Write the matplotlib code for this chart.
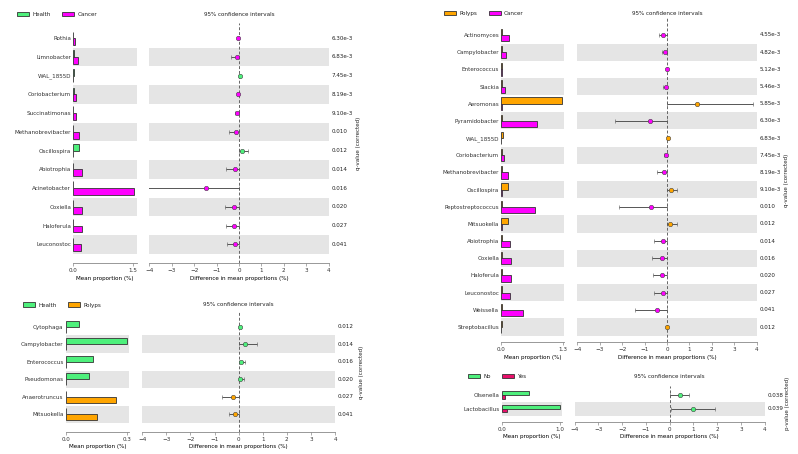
import numpy as np
import matplotlib
matplotlib.use("Agg")
import matplotlib.pyplot as plt
import matplotlib.patches as mpatches

# --- data ---
A_taxa = ["Rothia", "Limnobacter", "WAL_1855D", "Coriobacterium", "Succinatimonas",
          "Methanobrevibacter", "Oscillospira", "Abiotrophia", "Acinetobacter",
          "Coxiella", "Haloferula", "Leuconostoc"]
A_health = [0.005, 0.01, 0.03, 0.01, 0.005, 0.005, 0.14, 0.005, 0.005, 0.005, 0.005, 0.005]
A_cancer = [0.035, 0.13, 0.0, 0.06, 0.08, 0.15, 0.005, 0.21, 1.52, 0.22, 0.22, 0.19]
A_diff = [-0.03, -0.10, 0.04, -0.06, -0.07, -0.15, 0.13, -0.19, -1.49, -0.21, -0.21, -0.19]
A_lo = [-0.05, -0.36, 0.02, -0.10, -0.20, -0.43, 0.01, -0.58, -4.5, -0.64, -0.60, -0.55]
A_hi = [-0.01, 0.01, 0.06, 0.00, 0.00, 0.00, 0.39, 0.01, 0.00, 0.00, 0.01, 0.01]
A_q = ["6.30e-3", "6.83e-3", "7.45e-3", "8.19e-3", "9.10e-3", "0.010", "0.012",
       "0.014", "0.016", "0.020", "0.027", "0.041"]

B_taxa = ["Actinomyces", "Campylobacter", "Enterococcus", "Slackia", "Aeromonas",
          "Pyramidobacter", "WAL_1855D", "Coriobacterium", "Methanobrevibacter",
          "Oscillospira", "Peptostreptococcus", "Mitsuokella", "Abiotrophia",
          "Coxiella", "Haloferula", "Leuconostoc", "Weissella", "Streptobacillus"]
B_polyps = [0.005, 0.005, 0.005, 0.005, 1.29, 0.005, 0.04, 0.005, 0.005, 0.15, 0.005,
            0.135, 0.005, 0.005, 0.005, 0.005, 0.005, 0.005]
B_cancer = [0.16, 0.09, 0.01, 0.08, 0.005, 0.75, 0.0, 0.05, 0.15, 0.005, 0.71, 0.005,
            0.19, 0.21, 0.20, 0.18, 0.45, 0.0]
B_diff = [-0.16, -0.07, -0.01, -0.06, 1.34, -0.77, 0.03, -0.06, -0.15, 0.16, -0.73,
          0.15, -0.19, -0.21, -0.21, -0.18, -0.46, 0.005]
B_lo = [-0.37, -0.24, -0.02, -0.20, 0.00, -2.33, 0.02, -0.14, -0.43, 0.01, -2.13,
        0.01, -0.58, -0.65, -0.61, -0.56, -1.41, 0.00]
B_hi = [-0.01, 0.00, 0.00, 0.00, 3.85, 0.00, 0.04, 0.00, 0.00, 0.46, 0.00, 0.43,
        0.00, 0.00, 0.00, 0.00, 0.00, 0.01]
B_q = ["4.55e-3", "4.82e-3", "5.12e-3", "5.46e-3", "5.85e-3", "6.30e-3", "6.83e-3",
       "7.45e-3", "8.19e-3", "9.10e-3", "0.010", "0.012", "0.014", "0.016", "0.020",
       "0.027", "0.041", "0.012"]

C_taxa = ["Cytophaga", "Campylobacter", "Enterococcus", "Pseudomonas",
          "Anaerotruncus", "Mitsuokella"]
C_health = [0.064, 0.30, 0.134, 0.116, 0.003, 0.003]
C_polyps = [0.002, 0.002, 0.002, 0.002, 0.246, 0.152]
C_diff = [0.05, 0.26, 0.08, 0.07, -0.24, -0.15]
C_lo = [0.00, 0.00, 0.00, 0.00, -0.68, -0.41]
C_hi = [0.10, 0.78, 0.26, 0.24, 0.00, 0.00]
C_q = ["0.012", "0.014", "0.016", "0.020", "0.027", "0.041"]

D_taxa = ["Olsenella", "Lactobacillus"]
D_no = [0.46, 1.0]
D_yes = [0.057, 0.08]
D_diff = [0.44, 0.97]
D_lo = [0.00, 0.04]
D_hi = [0.83, 1.89]
D_p = ["0.038", "0.039"]

# --- style ---
W, H = 798, 454
FS = 4.1
GREEN = "#4ef07c"
MAGENTA = "#ff00ff"
ORANGE = "#ffa500"
CRIMSON = "#e8106a"
BAND = "#e5e5e5"
EDGE = "#333333"
EBAR = "#555555"

plt.rcParams["font.family"] = "DejaVu Sans"
plt.rcParams["font.size"] = FS
plt.rcParams["text.color"] = "#222222"


def px_axes(fig, x0, x1, ytop, ybot):
    return fig.add_axes([x0 / W, 1 - ybot / H, (x1 - x0) / W, (ybot - ytop) / H])


def panel(fig, taxa, g1, g2, diff, lo, hi, stats, names, colors,
          bar_tick, bar_xmax, bar_box, diff_box, ytop, ybot, pad_top, pad_bot,
          bar_h, legend_xy, stat_label, stat_x):
    n = len(taxa)
    rows = np.arange(n)
    ax_b = px_axes(fig, bar_box[0], bar_box[1], ytop, ybot)
    ax_d = px_axes(fig, diff_box[0], diff_box[1], ytop, ybot)

    for ax in (ax_b, ax_d):
        ax.set_ylim(n - 1 + pad_bot, -pad_top)
        for i in rows[1::2]:
            ax.axhspan(i - 0.5, i + 0.5, color=BAND, lw=0, zorder=0)
        for s in ("top", "right", "left"):
            ax.spines[s].set_visible(False)
        ax.spines["bottom"].set_color("#888888")
        ax.spines["bottom"].set_linewidth(0.6)
        ax.tick_params(axis="x", length=2, width=0.5, pad=1.5, labelsize=FS,
                       color="#888888", labelcolor="#333333")
        ax.tick_params(axis="y", length=0, pad=1.5, labelsize=FS, labelcolor="#333333")

    # mean proportion bars
    ax_b.barh(rows - bar_h / 2, g1, height=bar_h, color=colors[0],
              edgecolor=EDGE, lw=0.6, zorder=3)
    ax_b.barh(rows + bar_h / 2, g2, height=bar_h, color=colors[1],
              edgecolor=EDGE, lw=0.6, zorder=3)
    ax_b.set_yticks(rows)
    ax_b.set_yticklabels(taxa)
    ax_b.set_xlim(0, bar_xmax)
    ax_b.set_xticks([0, bar_tick])
    ax_b.set_xticklabels(["0.0", f"{bar_tick:.1f}"])
    ax_b.set_xlabel("Mean proportion (%)", fontsize=FS, labelpad=2)

    # difference with CI
    ax_d.set_xlim(-4, 4)
    ax_d.set_xticks(range(-4, 5))
    ax_d.set_yticks([])
    ax_d.axvline(0, ls=(0, (3, 2)), color="#666666", lw=0.7, zorder=1)
    for i in rows:
        c = colors[0] if diff[i] > 0 else colors[1]
        ax_d.errorbar(diff[i], i, xerr=[[diff[i] - lo[i]], [hi[i] - diff[i]]],
                      fmt="o", ms=3.2, mfc=c, mec="#444444", mew=0.4,
                      ecolor=EBAR, elinewidth=0.7, capsize=1.5, capthick=0.6,
                      zorder=4)
        ax_d.annotate(stats[i], xy=(1, i), xycoords=("axes fraction", "data"),
                      xytext=(2, 0), textcoords="offset points",
                      va="center", ha="left", fontsize=FS)
    ax_d.set_xlabel("Difference in mean proportions (%)", fontsize=FS, labelpad=2)

    # header: legend + CI title
    lx, ly = legend_xy
    handles = [mpatches.Patch(facecolor=colors[k], edgecolor=EDGE, lw=0.6, label=names[k])
               for k in range(2)]
    fig.legend(handles=handles, loc="center left", bbox_to_anchor=(lx / W, 1 - ly / H),
               ncol=2, frameon=False, fontsize=FS, handlelength=2.1, handleheight=0.75,
               handletextpad=0.6, columnspacing=2.0, borderpad=0, borderaxespad=0)
    fig.text((diff_box[0] + diff_box[1]) / 2 / W, 1 - ly / H, "95% confidence intervals",
             ha="center", va="center", fontsize=FS)
    fig.text(stat_x / W, 1 - (ytop + ybot) / 2 / H, stat_label,
             rotation=90, ha="center", va="center", fontsize=FS)


fig = plt.figure(figsize=(W / 100, H / 100), dpi=100)
fig.patch.set_facecolor("white")

panel(fig, A_taxa, A_health, A_cancer, A_diff, A_lo, A_hi, A_q,
      ["Health", "Cancer"], [GREEN, MAGENTA],
      1.5, 1.60, (73.3, 136.7), (149.3, 328.7), 22.7, 263.3, 0.83, 1.01,
      0.36, (16.7, 14.3), "q-value (corrected)", 358.3)

panel(fig, B_taxa, B_polyps, B_cancer, B_diff, B_lo, B_hi, B_q,
      ["Polyps", "Cancer"], [ORANGE, MAGENTA],
      1.3, 1.334, (501.3, 564.3), (577.3, 756.7), 18.3, 342.3, 0.97, 0.89,
      0.36, (444.0, 13.3), "q-value (corrected)", 786.7)

panel(fig, C_taxa, C_health, C_polyps, C_diff, C_lo, C_hi, C_q,
      ["Health", "Polyps"], [GREEN, ORANGE],
      0.3, 0.311, (65.7, 129.0), (142.3, 335.0), 312.3, 431.7, 0.82, 0.99,
      0.34, (22.7, 305.0), "q-value (corrected)", 361.0)

panel(fig, D_taxa, D_no, D_yes, D_diff, D_lo, D_hi, D_p,
      ["No", "Yes"], [GREEN, CRIMSON],
      1.0, 1.034, (502.0, 562.0), (574.7, 764.7), 386.0, 421.7, 0.66, 0.95,
      0.27, (468.0, 376.7), "p-value (corrected)", 787.7)

fig.savefig("out.png", dpi=100, facecolor="white")
